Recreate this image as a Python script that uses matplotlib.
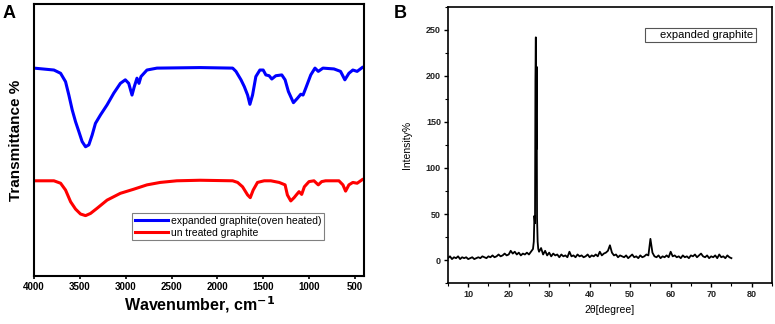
import numpy as np
import matplotlib
matplotlib.use("Agg")
import matplotlib.pyplot as plt

plt.rcParams['font.family'] = ['Liberation Sans', 'DejaVu Sans']

# --- FTIR (panel A) ---
wn_blue = [4000, 3783, 3710, 3656, 3620, 3583, 3547, 3511, 3475, 3438, 3402, 3366,
           3330, 3275, 3203, 3130, 3058, 3004, 2967, 2931, 2906, 2877, 2855, 2833,
           2768, 2659, 2188, 1833, 1797, 1742, 1706, 1670, 1645, 1616, 1580, 1536,
           1500, 1471, 1435, 1406, 1362, 1297, 1261, 1225, 1170, 1127, 1090, 1065,
           1036, 981, 935, 899, 848, 728, 656, 609, 565, 522, 475, 420]
tr_blue = [76.4, 75.7, 74.5, 71.4, 66.5, 61.0, 56.7, 53.1, 49.4, 47.5, 48.2, 51.8,
           56.1, 59.2, 62.9, 67.2, 70.8, 72.1, 70.8, 66.5, 69.6, 72.7, 70.8, 73.3,
           75.7, 76.4, 76.6, 76.4, 75.2, 72.1, 69.6, 66.5, 63.1, 66.5, 73.3, 75.7,
           75.7, 73.9, 73.6, 72.4, 73.6, 73.9, 72.1, 67.8, 63.7, 65.3, 66.8, 66.5,
           69.0, 73.9, 76.4, 75.2, 76.4, 76.1, 75.2, 72.1, 74.5, 75.7, 75.2, 76.6]

wn_red = [4000, 3783, 3710, 3656, 3601, 3547, 3493, 3438, 3384, 3312, 3203, 3058,
          2913, 2768, 2623, 2442, 2188, 1833, 1779, 1725, 1670, 1641, 1609, 1562,
          1489, 1417, 1326, 1261, 1236, 1199, 1163, 1134, 1109, 1080, 1051, 1000,
          946, 899, 862, 819, 674, 630, 601, 565, 522, 475, 420]
tr_red = [35.0, 35.0, 34.1, 31.6, 27.3, 24.6, 22.8, 22.2, 23.0, 24.9, 27.9, 30.4,
          31.9, 33.5, 34.4, 35.0, 35.2, 35.0, 34.4, 32.8, 29.8, 28.8, 31.6, 34.4,
          35.0, 35.0, 34.4, 33.5, 29.8, 27.6, 28.8, 30.0, 31.0, 30.0, 32.8, 34.7,
          35.0, 33.5, 34.7, 35.0, 35.0, 33.5, 31.2, 33.5, 34.4, 34.1, 35.4]

# --- XRD (panel B) ---
theta_low = np.arange(5.0, 26.01, 0.5)
int_low = [2, 4, 1, 3, 2, 4, 1, 3, 2, 3,
           1, 2, 3, 1, 2, 3, 2, 4, 3, 2,
           4, 3, 5, 3, 4, 6, 4, 5, 7, 5,
           6, 10, 7, 9, 6, 8, 5, 7, 6, 8,
           6, 9, 12]
theta_peak = [26.2, 26.35, 26.5, 26.6, 26.7, 26.8, 26.9, 27.0, 27.15, 27.3]
int_peak = [20, 48, 40, 195, 242, 120, 210, 46, 20, 12]
theta_high = np.arange(27.5, 75.01, 0.5)
int_high = [9, 13, 6, 10, 5, 8, 4, 7, 5, 6,
            3, 6, 4, 5, 3, 9, 4, 5, 3, 6,
            4, 5, 3, 4, 6, 3, 5, 4, 6, 4,
            9, 5, 7, 8, 10, 16, 8, 5, 6, 3,
            5, 4, 3, 5, 2, 4, 6, 3, 4, 2,
            5, 3, 4, 6, 5, 23, 8, 4, 3, 5,
            2, 4, 3, 5, 3, 9, 4, 5, 3, 4,
            2, 5, 3, 4, 2, 5, 4, 6, 3, 5,
            7, 4, 3, 5, 2, 4, 3, 5, 2, 6,
            3, 4, 2, 5, 3, 2]

two_theta = np.concatenate([theta_low, theta_peak, theta_high])
intensity = np.concatenate([int_low, int_peak, int_high])

fig = plt.figure(figsize=(7.75, 3.24), dpi=100)

# Panel A
axA = fig.add_axes([0.0439, 0.148, 0.4258, 0.84])
axA.plot(wn_blue, tr_blue, color='#0000ff', lw=2.2, solid_joinstyle='round',
         label='expanded graphite(oven heated)')
axA.plot(wn_red, tr_red, color='#ff0000', lw=2.2, solid_joinstyle='round',
         label='un treated graphite')
axA.set_xlim(4000, 400)
axA.set_ylim(0, 100)
axA.set_xticks([4000, 3500, 3000, 2500, 2000, 1500, 1000, 500])
axA.set_yticks([])
axA.tick_params(axis='x', direction='out', length=2, width=1.2, labelsize=7, pad=2)
for lab in axA.get_xticklabels():
    lab.set_fontweight('bold')
for sp in axA.spines.values():
    sp.set_linewidth(1.5)
axA.set_xlabel('Wavenumber, cm$^{\\mathbf{-1}}$', fontsize=11.5, fontweight='bold', labelpad=2)
axA.set_ylabel('Transmittance %', fontsize=11, fontweight='bold', labelpad=8)
legA = axA.legend(loc='lower left', bbox_to_anchor=(0.297, 0.132), borderaxespad=0,
                  fontsize=7.5, handlelength=3.2, handletextpad=0.3, labelspacing=0.15,
                  borderpad=0.25, fancybox=False, framealpha=1, edgecolor='#808080')
legA.get_frame().set_linewidth(0.8)
fig.text(0.003, 0.985, 'A', fontsize=13, fontweight='bold', va='top', ha='left')

# Panel B
axB = fig.add_axes([0.578, 0.1265, 0.418, 0.852])
axB.plot(two_theta, intensity, color='black', lw=1.3, label='expanded graphite')
axB.set_xlim(5, 85)
axB.set_ylim(-25, 275)
axB.set_xticks([10, 20, 30, 40, 50, 60, 70, 80])
axB.set_xticks(np.arange(5, 86, 5), minor=True)
axB.set_yticks([0, 50, 100, 150, 200, 250])
axB.set_yticks(np.arange(-25, 276, 25), minor=True)
axB.tick_params(which='major', direction='out', length=3, width=1, labelsize=6.5, pad=2,
                labelcolor='#222222')
axB.tick_params(which='minor', direction='out', length=2, width=0.8)
for lab in axB.get_xticklabels() + axB.get_yticklabels():
    lab.set_fontweight('bold')
for sp in axB.spines.values():
    sp.set_linewidth(1.2)
axB.set_xlabel('2θ[degree]', fontsize=7.5, labelpad=4)
axB.set_ylabel('Intensity%', fontsize=7.5, labelpad=10)
legB = axB.legend(loc='upper right', bbox_to_anchor=(0.95, 0.924), borderaxespad=0,
                  fontsize=8, handlelength=0.8, handletextpad=0.4, borderpad=0.2,
                  fancybox=False, framealpha=1, edgecolor='#555555')
legB.legend_handles[0].set_visible(False)
legB.get_frame().set_linewidth(0.8)
fig.text(0.508, 0.985, 'B', fontsize=13, fontweight='bold', va='top', ha='left')

fig.savefig('out.png', dpi=100)
